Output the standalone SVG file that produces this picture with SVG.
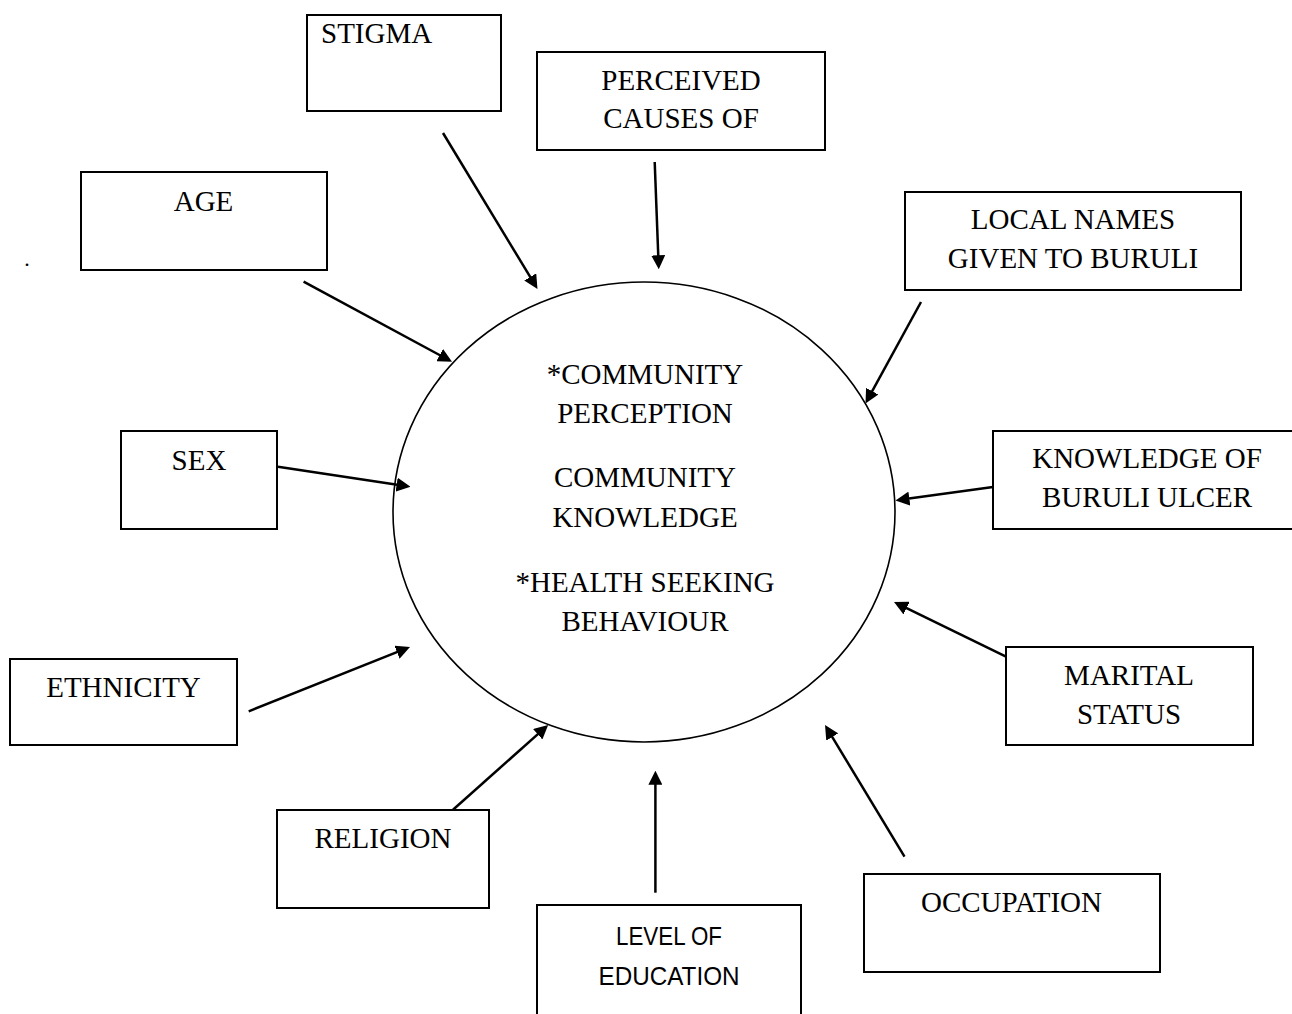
<svg xmlns="http://www.w3.org/2000/svg" width="1292" height="1014" viewBox="0 0 1292 1014">
<style>
.box{fill:#fff;stroke:#000;stroke-width:2}
.t{font-family:"Liberation Serif","Times New Roman",serif;font-size:29px;fill:#000;text-anchor:middle}
.s{font-family:"Liberation Sans",Arial,sans-serif;font-size:25px;fill:#000;text-anchor:middle}
.c{stroke:#000;stroke-width:2.5;fill:none;marker-end:url(#ah)}
</style>
<defs>
<marker id="ah" markerUnits="userSpaceOnUse" viewBox="0 0 14 14" refX="4" refY="7" markerWidth="14" markerHeight="14" orient="auto">
<path d="M0,0 L14,7 L0,14 z" fill="#000"/>
</marker>
</defs>
<rect width="1292" height="1014" fill="#fff"/>
<text x="27" y="266" class="t" style="font-size:22px">.</text>
<g id="center">
<ellipse cx="644" cy="512" rx="251" ry="230" fill="none" stroke="#000" stroke-width="1.6"/>
<text class="t" x="645" y="384">*COMMUNITY</text>
<text class="t" x="645" y="423">PERCEPTION</text>
<text class="t" x="645" y="487">COMMUNITY</text>
<text class="t" x="645" y="526.5">KNOWLEDGE</text>
<text class="t" x="645" y="591.5">*HEALTH SEEKING</text>
<text class="t" x="645" y="630.5">BEHAVIOUR</text>
</g>
<g id="stigma"><rect class="box" x="307" y="15" width="194" height="96"/><text class="t" x="321" y="42.5" style="text-anchor:start">STIGMA</text></g>
<g id="perceived"><rect class="box" x="537" y="52" width="288" height="98"/><text class="t" x="681" y="89.5">PERCEIVED</text><text class="t" x="681" y="128">CAUSES OF</text></g>
<g id="age"><rect class="box" x="81" y="172" width="246" height="98"/><text class="t" x="203.5" y="210.5">AGE</text></g>
<g id="localnames"><rect class="box" x="905" y="192" width="336" height="98"/><text class="t" x="1073" y="229">LOCAL NAMES</text><text class="t" x="1073" y="268">GIVEN TO BURULI</text></g>
<g id="sex"><rect class="box" x="121" y="431" width="156" height="98"/><text class="t" x="199" y="469.5">SEX</text></g>
<g id="knowledge"><rect class="box" x="993" y="431" width="310" height="98"/><text class="t" x="1147" y="468">KNOWLEDGE OF</text><text class="t" x="1147" y="507">BURULI ULCER</text></g>
<g id="ethnicity"><rect class="box" x="10" y="659" width="227" height="86"/><text class="t" x="123.5" y="697">ETHNICITY</text></g>
<g id="marital"><rect class="box" x="1006" y="647" width="247" height="98"/><text class="t" x="1129" y="685">MARITAL</text><text class="t" x="1129" y="724">STATUS</text></g>
<g id="religion"><rect class="box" x="277" y="810" width="212" height="98"/><text class="t" x="383" y="847.5">RELIGION</text></g>
<g id="education"><rect class="box" x="537" y="905" width="264" height="120"/><text class="s" x="669" y="945" textLength="106" lengthAdjust="spacingAndGlyphs">LEVEL OF</text><text class="s" x="669" y="985" textLength="141" lengthAdjust="spacingAndGlyphs">EDUCATION</text></g>
<g id="occupation"><rect class="box" x="864" y="874" width="296" height="98"/><text class="t" x="1011.5" y="911.5">OCCUPATION</text></g>
<g id="connectors">
<path class="c" d="M443,133 L532.3,280.4"/>
<path class="c" d="M654.7,162 L658.4,259.3"/>
<path class="c" d="M303.6,281.7 L443.2,357"/>
<path class="c" d="M921,302 L870.3,394.7"/>
<path class="c" d="M278,466.7 L400.6,485.2"/>
<path class="c" d="M993,487 L905.4,499.1"/>
<path class="c" d="M248.7,711.3 L400.7,650.7"/>
<path class="c" d="M1006,656.7 L903,606.4"/>
<path class="c" d="M453,809.7 L540.7,731.6"/>
<path class="c" d="M655.4,892.7 L655.4,780.7"/>
<path class="c" d="M904.5,856.7 L830.2,733.6"/>
</g>
</svg>
